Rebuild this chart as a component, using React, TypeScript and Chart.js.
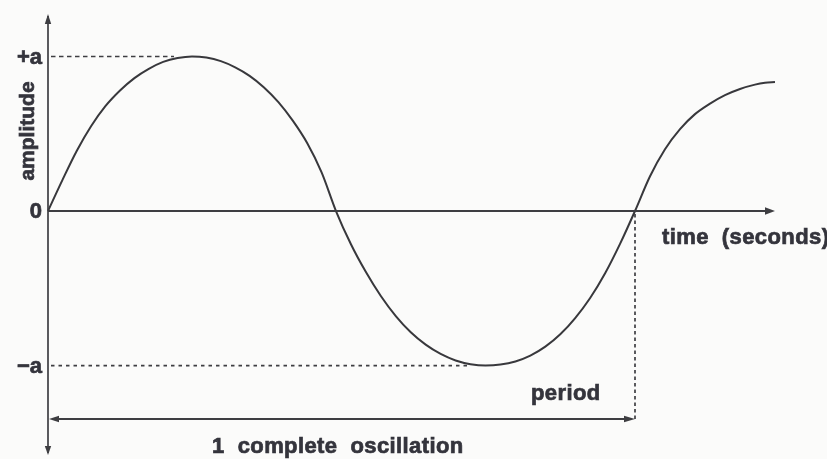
import React, { useEffect, useRef } from "react";
import { Chart, registerables } from "chart.js";

Chart.register(...registerables);

// time in units of one period T, amplitude in units of a
const TIME = [
  0, 0.0245, 0.0491, 0.0736, 0.0981, 0.1227, 0.1472, 0.1717, 0.1962, 0.2208,
  0.2453, 0.2698, 0.2944, 0.3189, 0.3434, 0.368, 0.3925, 0.417, 0.4415,
  0.4661, 0.4906,
  0.5161, 0.5416, 0.567, 0.5925, 0.618, 0.6434, 0.6689, 0.6944, 0.7198,
  0.7453, 0.7708, 0.7962, 0.8217, 0.8472, 0.8727, 0.8981, 0.9236, 0.9491,
  0.9745, 1.0,
  1.0256, 1.0511, 1.0767, 1.1022, 1.1278, 1.1533, 1.1789, 1.2044, 1.2215,
  1.2385,
];
const AMPLITUDE = [
  0, 0.2, 0.39, 0.55, 0.68, 0.78, 0.86, 0.92, 0.965, 0.99,
  1.0, 0.993, 0.97, 0.93, 0.875, 0.8, 0.705, 0.585, 0.44,
  0.25, 0,
  -0.215, -0.395, -0.55, -0.68, -0.785, -0.865, -0.925, -0.967, -0.991,
  -1.0, -0.994, -0.974, -0.936, -0.878, -0.798, -0.693, -0.563, -0.403,
  -0.213, 0,
  0.225, 0.4, 0.53, 0.627, 0.695, 0.75, 0.79, 0.818, 0.83,
  0.835,
];
const TICK_VALUES = [1, 0, -1];
const TICK_LABELS = ["+a", "0", "\u2212a"];
const PERIOD = 1;
const Y_TITLE = "amplitude";
const X_TITLE = "time  (seconds)";
const PERIOD_LABEL = "period";
const OSC_LABEL = "1  complete  oscillation";

const X_MAX = 1.2385;
const Y_MAX = 1.275;
const Y_MIN = -1.579;

const INK = "#34343c";
const LINE = "#3e3e42";
const FONT = 'bold 21px "Liberation Sans", Arial, sans-serif';
const FONT_L = 'bold 22px "Liberation Sans", Arial, sans-serif';

function tri(ctx: CanvasRenderingContext2D, pts: number[][]) {
  ctx.beginPath();
  ctx.moveTo(pts[0][0], pts[0][1]);
  ctx.lineTo(pts[1][0], pts[1][1]);
  ctx.lineTo(pts[2][0], pts[2][1]);
  ctx.closePath();
  ctx.fill();
}

function boldText(ctx: CanvasRenderingContext2D, s: string, x: number, y: number) {
  ctx.fillText(s, x, y);
  ctx.strokeText(s, x, y);
}

const decor = {
  id: "decor",
  beforeDraw(chart: any) {
    const ctx = chart.ctx;
    ctx.save();
    ctx.fillStyle = "#fbfbfa";
    ctx.fillRect(0, 0, chart.width, chart.height);
    ctx.restore();
  },
  afterDatasetsDraw(chart: any) {
    const ctx: CanvasRenderingContext2D = chart.ctx;
    const xs = chart.scales.x;
    const ys = chart.scales.y;
    const area = chart.chartArea;
    const x0 = xs.getPixelForValue(0);
    const y0 = ys.getPixelForValue(0);
    const xEnd = xs.getPixelForValue(X_MAX);
    const xT = xs.getPixelForValue(PERIOD);
    const yA = ys.getPixelForValue(TICK_VALUES[0]);
    const yNA = ys.getPixelForValue(TICK_VALUES[2]);
    let iMax = 0, iMin = 0;
    AMPLITUDE.forEach((v, i) => {
      if (v > AMPLITUDE[iMax]) iMax = i;
      if (v < AMPLITUDE[iMin]) iMin = i;
    });
    const xPeak = xs.getPixelForValue(TIME[iMax]);
    const xTrough = xs.getPixelForValue(TIME[iMin]);
    const yPer = area.bottom - 36;

    ctx.save();
    ctx.strokeStyle = LINE;
    ctx.fillStyle = LINE;

    // y axis
    ctx.lineWidth = 1.7;
    ctx.beginPath();
    ctx.moveTo(x0, area.top + 2);
    ctx.lineTo(x0, area.bottom - 2);
    ctx.stroke();
    tri(ctx, [[x0, area.top], [x0 - 3.2, area.top + 10], [x0 + 3.2, area.top + 10]]);
    tri(ctx, [[x0, area.bottom], [x0 - 3.2, area.bottom - 9], [x0 + 3.2, area.bottom - 9]]);

    // x axis
    ctx.lineWidth = 2.2;
    ctx.beginPath();
    ctx.moveTo(x0, y0);
    ctx.lineTo(xEnd - 4, y0);
    ctx.stroke();
    tri(ctx, [[xEnd, y0], [xEnd - 10, y0 - 3.8], [xEnd - 10, y0 + 3.8]]);

    // dashed guides
    ctx.lineWidth = 1.7;
    ctx.setLineDash([4.5, 3.5]);
    ctx.beginPath();
    ctx.moveTo(x0 + 3, yA);
    ctx.lineTo(xPeak - 18, yA);
    ctx.stroke();
    ctx.setLineDash([3.5, 4]);
    ctx.beginPath();
    ctx.moveTo(x0 + 3, yNA);
    ctx.lineTo(xTrough - 18, yNA);
    ctx.stroke();
    ctx.setLineDash([3.5, 3]);
    ctx.beginPath();
    ctx.moveTo(xT, y0 + 3);
    ctx.lineTo(xT, yPer);
    ctx.stroke();
    ctx.setLineDash([]);

    // period double arrow
    ctx.lineWidth = 1.8;
    ctx.beginPath();
    ctx.moveTo(x0 + 4, yPer);
    ctx.lineTo(xT - 4, yPer);
    ctx.stroke();
    tri(ctx, [[x0 + 1, yPer], [x0 + 11, yPer - 3.2], [x0 + 11, yPer + 3.2]]);
    tri(ctx, [[xT, yPer], [xT - 11, yPer - 3.2], [xT - 11, yPer + 3.2]]);

    // texts
    ctx.fillStyle = INK;
    ctx.strokeStyle = INK;
    ctx.lineWidth = 0.7;
    ctx.font = FONT_L;
    ctx.textAlign = "right";
    ctx.textBaseline = "middle";
    TICK_VALUES.forEach((v, i) => {
      boldText(ctx, TICK_LABELS[i], x0 - 6, ys.getPixelForValue(v) + 1);
    });

    ctx.textBaseline = "alphabetic";
    ctx.textAlign = "left";
    ctx.font = FONT_L;
    (ctx as any).letterSpacing = "0.4px";
    boldText(ctx, X_TITLE, 662, y0 + 33);
    boldText(ctx, PERIOD_LABEL, 531, yPer - 19);
    boldText(ctx, OSC_LABEL, 212, area.bottom - 2);
    (ctx as any).letterSpacing = "0px";

    ctx.font = FONT;
    ctx.save();
    ctx.translate(34, 131);
    ctx.rotate(-Math.PI / 2);
    ctx.textAlign = "center";
    boldText(ctx, Y_TITLE, 0, 0);
    ctx.restore();

    ctx.restore();
  },
};

export default function App() {
  const ref = useRef<HTMLCanvasElement | null>(null);
  useEffect(() => {
    if (!ref.current) return;
    const chart = new Chart(ref.current, {
      type: "line",
      data: {
        datasets: [
          {
            data: TIME.map((t, i) => ({ x: t, y: AMPLITUDE[i] })),
            borderColor: "#38383c",
            borderWidth: 2,
            pointRadius: 0,
            cubicInterpolationMode: "monotone",
            fill: false,
            clip: 6,
          } as any,
        ],
      },
      options: {
        responsive: false,
        animation: false,
        devicePixelRatio: 1,
        layout: { padding: { left: 48, right: 52, top: 14, bottom: 4 } },
        scales: {
          x: { type: "linear", min: 0, max: X_MAX, display: false },
          y: { type: "linear", min: Y_MIN, max: Y_MAX, display: false },
        },
        plugins: { legend: { display: false }, tooltip: { enabled: false } },
      },
      plugins: [decor],
    });
    return () => chart.destroy();
  }, []);
  return (
    <div style={{ position: "fixed", left: 0, top: 0, width: 827, height: 459 }}>
      <canvas ref={ref} width={827} height={459} style={{ display: "block" }} />
    </div>
  );
}
